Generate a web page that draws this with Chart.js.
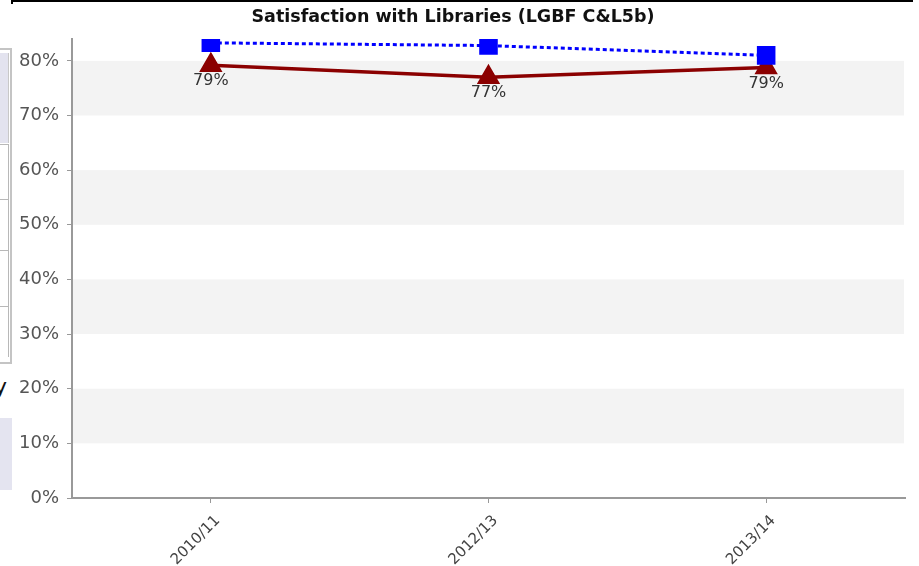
<!DOCTYPE html>
<html>
<head>
<meta charset="utf-8">
<script src="https://cdn.jsdelivr.net/npm/chart.js@4"></script>
<style>
  body { margin: 0; background: #fff; }
  #wrap { position: relative; width: 919px; height: 566px; overflow: hidden; }
  #chart { position: absolute; left: 0; top: 0; }
  .frag { position: absolute; }
</style>
</head>
<body>
<div id="wrap">
  <!-- bits of the surrounding page that show at the edges -->
  <div class="frag" style="left:12px; top:0; width:901px; height:2px; background:#000;"></div>
  <div class="frag" style="left:11px; top:0; width:2px; height:4px; background:#000;"></div>
  <div class="frag" style="left:-2px; top:48px; width:12px; height:312px; border:2px solid #c4c4c4; border-left:none;"></div>
  <div class="frag" style="left:0; top:53px; width:8px; height:90px; background:#e3e3ef; border-right:1px solid #c8c8c8;"></div>
  <div class="frag" style="left:0; top:144px; width:9px; height:1px; background:#b8b8b8;"></div>
  <div class="frag" style="left:0; top:199px; width:9px; height:1px; background:#b8b8b8;"></div>
  <div class="frag" style="left:0; top:250px; width:9px; height:1px; background:#b8b8b8;"></div>
  <div class="frag" style="left:0; top:306px; width:9px; height:1px; background:#b8b8b8;"></div>
  <div class="frag" style="left:8px; top:145px; width:1px; height:212px; background:#b8b8b8;"></div>
  <div class="frag" style="left:-6px; top:374px; font:22px 'DejaVu Sans', sans-serif; color:#111;">y</div>
  <div class="frag" style="left:0; top:418px; width:12px; height:72px; background:#e4e4f0;"></div>
  <canvas id="chart" width="919" height="566"></canvas>
</div>
<script>
const categories = ["2010/11", "2012/13", "2013/14"];
const localValues = [79.2, 77.0, 78.8];
const comparatorValues = [83.3, 82.8, 81.0];
const yTicks = [0, 10, 20, 30, 40, 50, 60, 70, 80];
const bandRanges = [[70, 80], [50, 60], [30, 40], [10, 20]];

// grey stripes behind the lines
const bandsPlugin = {
    id: "bands",
    beforeDatasetsDraw(chart) {
        const ctx = chart.ctx;
        const area = chart.chartArea;
        const y = chart.scales.y;
        ctx.save();
        ctx.fillStyle = "#f3f3f3";
        bandRanges.forEach(([lo, hi]) => {
            const top = y.getPixelForValue(hi);
            const bottom = y.getPixelForValue(lo);
            ctx.fillRect(area.left + 1, top, area.right - area.left - 2, bottom - top);
        });
        ctx.restore();
    }
};

// value labels under the red triangles
const valueLabels = {
    id: "valueLabels",
    afterDatasetsDraw(chart) {
        const ctx = chart.ctx;
        const meta = chart.getDatasetMeta(0);
        ctx.save();
        ctx.font = "16px 'DejaVu Sans', sans-serif";
        ctx.fillStyle = "#333";
        ctx.textAlign = "center";
        ctx.textBaseline = "middle";
        meta.data.forEach((pt, i) => {
            ctx.fillText(Math.round(localValues[i]) + "%", pt.x, pt.y + 16);
        });
        ctx.restore();
    }
};

new Chart(document.getElementById("chart"), {
    type: "line",
    data: {
        labels: categories,
        datasets: [{
            label: "Council",
            data: localValues,
            borderColor: "#8b0000",
            backgroundColor: "#8b0000",
            borderWidth: 3.5,
            pointStyle: "triangle",
            pointRadius: 10,
            pointHoverRadius: 10,
            fill: false,
            tension: 0,
            order: 2
        }, {
            label: "Scotland",
            data: comparatorValues,
            borderColor: "#0000ff",
            backgroundColor: "#0000ff",
            borderWidth: 3,
            borderDash: [4, 3],
            pointStyle: "rect",
            pointRadius: 11,
            pointHoverRadius: 11,
            fill: false,
            tension: 0,
            order: 1
        }]
    },
    options: {
        responsive: false,
        animation: false,
        layout: { padding: { left: 0, right: 13, top: 0, bottom: 0 } },
        plugins: {
            legend: { display: false },
            tooltip: { enabled: false },
            title: {
                display: true,
                text: "Satisfaction with Libraries (LGBF C&L5b)",
                color: "#111",
                font: { family: "'DejaVu Sans', sans-serif", size: 17.5, weight: "bold" },
                padding: { top: 7, bottom: 11 }
            }
        },
        scales: {
            x: {
                offset: true,
                grid: { display: true, drawOnChartArea: false, drawTicks: true, tickLength: 5, color: "#999" },
                border: { color: "#999", width: 2 },
                ticks: {
                    color: "#444",
                    font: { family: "'DejaVu Sans', sans-serif", size: 15 },
                    maxRotation: 45,
                    minRotation: 45,
                    padding: 9,
                    labelOffset: 7
                },
                afterFit(scale) { scale.height = 68; }
            },
            y: {
                min: 0,
                max: 84,
                grid: { drawOnChartArea: false, drawTicks: true, tickLength: 5, color: "#999" },
                border: { color: "#999", width: 2 },
                ticks: {
                    color: "#555",
                    font: { family: "'DejaVu Sans', sans-serif", size: 18 },
                    padding: 8,
                    callback: v => v + "%"
                },
                afterBuildTicks(scale) {
                    scale.ticks = yTicks.map(v => ({ value: v }));
                },
                afterFit(scale) { scale.width = 72; }
            }
        }
    },
    plugins: [bandsPlugin, valueLabels]
});
</script>
</body>
</html>
